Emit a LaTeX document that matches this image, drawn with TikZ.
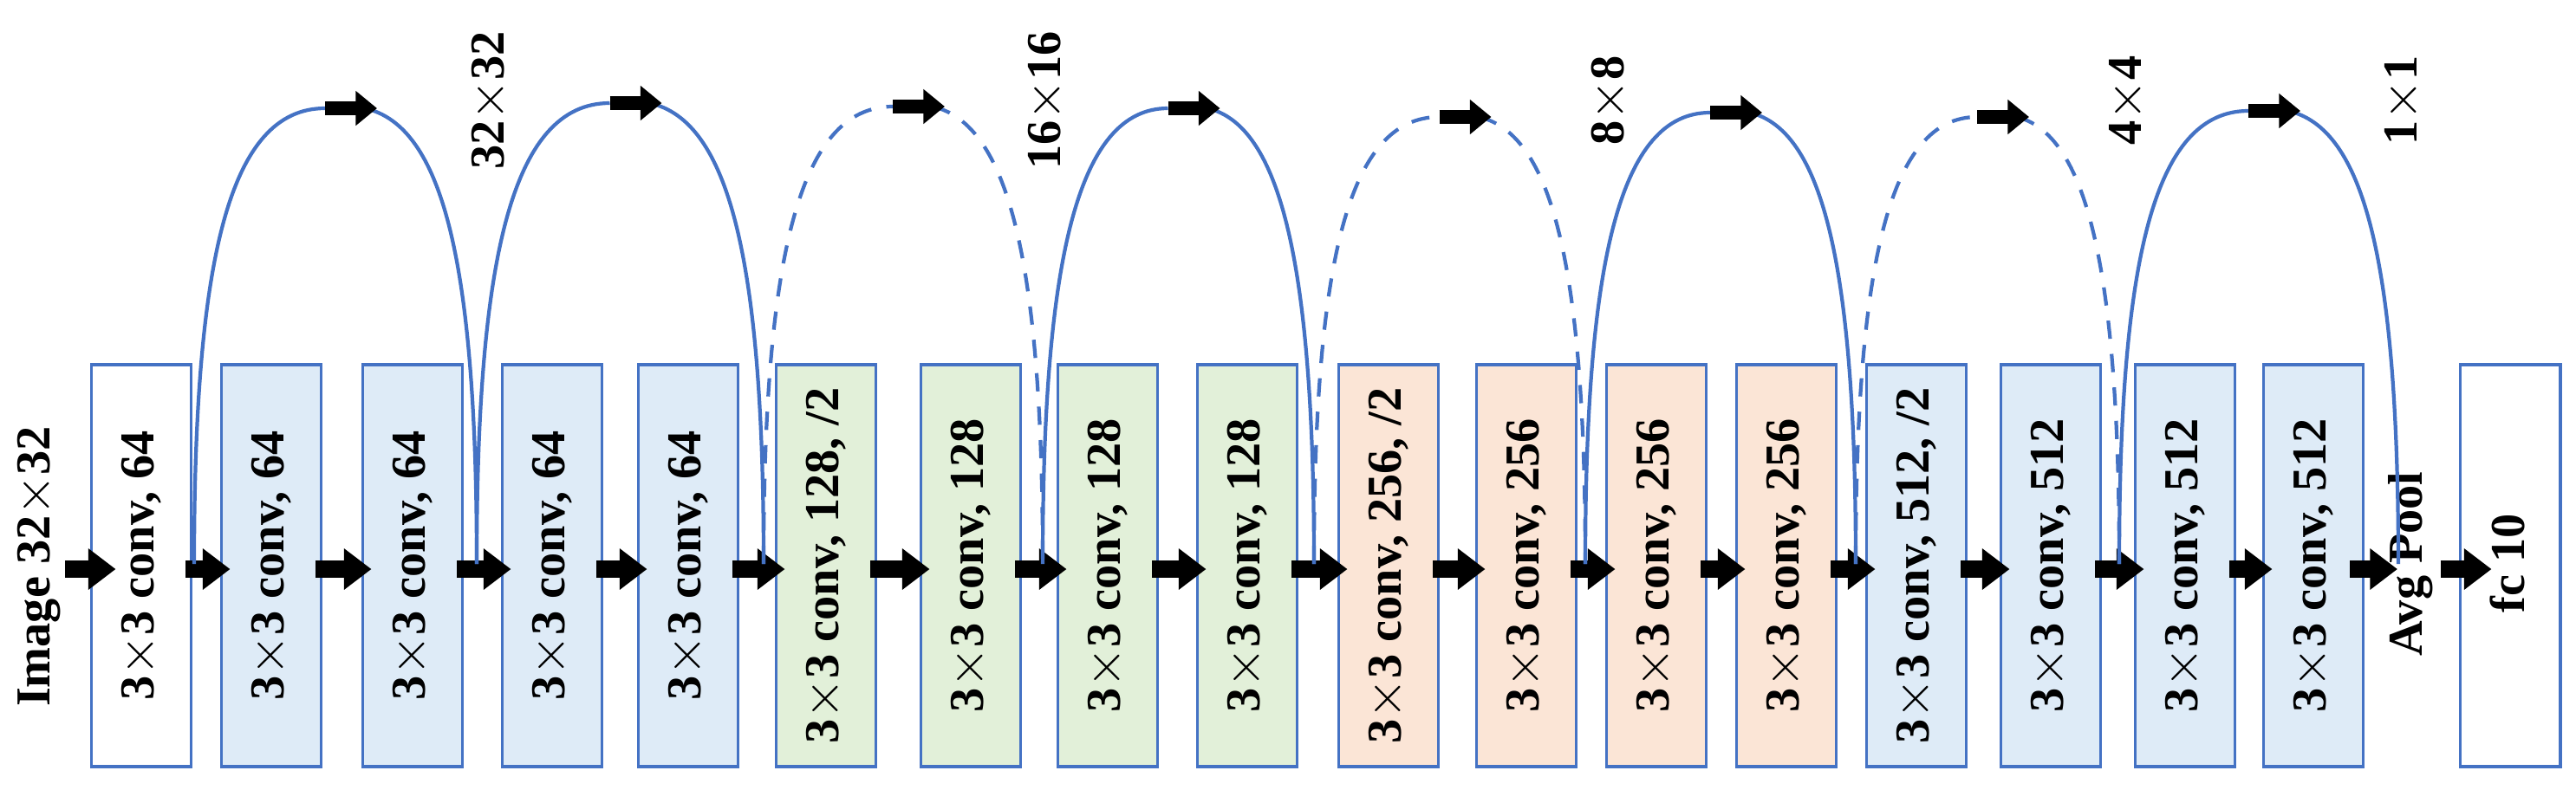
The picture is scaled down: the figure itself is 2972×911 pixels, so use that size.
\documentclass[tikz,border=0pt]{standalone}
\usepackage{fontspec}
\setmainfont{Liberation Serif}
\usetikzlibrary{arrows.meta,calc}
\definecolor{edge}{HTML}{4472C4}
\definecolor{cblue}{HTML}{DEEBF7}
\definecolor{cgreen}{HTML}{E2F0D9}
\definecolor{corange}{HTML}{FBE5D6}
\tikzset{
 layer/.style={draw=edge,line width=1.1pt,minimum width=1.15cm,minimum height=4.64cm,inner sep=0pt},
 ltext/.style={rotate=90,font=\fontsize{16}{18}\selectfont\bfseries},
 blk/.style={draw=black,line width=5.5pt,-{Triangle[length=9pt,width=13pt]}},
 skipline/.style={draw=edge,line width=1.2pt},
 dskip/.style={skipline,dashed,dash pattern=on 6pt off 5pt},
}
\begin{document}
\begin{tikzpicture}[x=0.01cm,y=-0.01cm]
\useasboundingbox (0,0) rectangle (2972,911);
% boxes
\foreach \n/\x/\c/\t in {
 1/163/white/{3$\times$3 conv, 64},
 2/313/cblue/{3$\times$3 conv, 64},
 3/476/cblue/{3$\times$3 conv, 64},
 4/637/cblue/{3$\times$3 conv, 64},
 5/794/cblue/{3$\times$3 conv, 64},
 6/953/cgreen/{3$\times$3 conv, 128, /2},
 7/1120/cgreen/{3$\times$3 conv, 128},
 8/1278/cgreen/{3$\times$3 conv, 128},
 9/1439/cgreen/{3$\times$3 conv, 128},
 10/1602/corange/{3$\times$3 conv, 256, /2},
 11/1761/corange/{3$\times$3 conv, 256},
 12/1911/corange/{3$\times$3 conv, 256},
 13/2061/corange/{3$\times$3 conv, 256},
 14/2211/cblue/{3$\times$3 conv, 512, /2},
 15/2366/cblue/{3$\times$3 conv, 512},
 16/2521/cblue/{3$\times$3 conv, 512},
 17/2669/cblue/{3$\times$3 conv, 512},
 18/2896/white/{}}
 { \node[layer,fill=\c] (b\n) at (\x,653) {};
   \node[ltext] (t\n) at (\x,653) {\t}; }
\node[ltext,align=center] (fc) at (2893,650) {fc 10};
\node[ltext] (img) at (45,654) {Image 32$\times$32};
\node[ltext] (avg) at (2781,651) {Avg Pool};
% size labels
\foreach \n/\x/\t in {a/565/{32$\times$32},b/1207/{16$\times$16},c/1857/{8$\times$8},d/2454/{4$\times$4},e/2772/{1$\times$1}}
 \node[ltext] (s\n) at (\x,116) {\t};
% horizontal arrows
\coordinate (in0) at (75,657);
\draw[blk] (in0) -- ($(b1.west)+(30,4)$);
\foreach \a/\b in {1/2,2/3,3/4,4/5,5/6,6/7,7/8,8/9,9/10,10/11,11/12,12/13,13/14,14/15,15/16,16/17}
 \draw[blk] ($(b\a.east)+(-8,4)$) -- ($(b\b.west)+(12,4)$);
\coordinate (avgin) at (2766,657);
\draw[blk] ($(b17.east)+(-17,4)$) -- (avgin);
\draw[blk] ($(b18.west)+(-21,4)$) -- ($(b18.west)+(38,4)$);
% skip arcs
\foreach \i/\xa/\xb/\ay/\st in {1/224/550/125/skipline,2/550/881/119/skipline,3/881/1203/123/dskip,4/1203/1516/125/skipline,5/1516/1829/135/dskip,6/1829/2141/130/skipline,7/2141/2445/135/dskip,8/2445/2767/128/skipline}{
 \pgfmathsetmacro\mx{(\xa+\xb)/2}
 \coordinate (p\i) at (\xa,651);
 \coordinate (q\i) at (\xb,651);
 \coordinate (l\i) at (\mx-12,\ay);
 \coordinate (r\i) at (\mx+48,\ay);
 \coordinate (rr\i) at (\mx+34,\ay);
 \draw[\st] (p\i) .. controls (\xa,300) and (\xa+40,\ay) .. (l\i);
 \draw[\st] (rr\i) .. controls (\xb-40,\ay+20) and (\xb,300) .. (q\i);
 \draw[draw=black,line width=4.5pt,-{Triangle[length=7pt,width=11pt]}] (l\i) -- (r\i);
}
\end{tikzpicture}
\end{document}
